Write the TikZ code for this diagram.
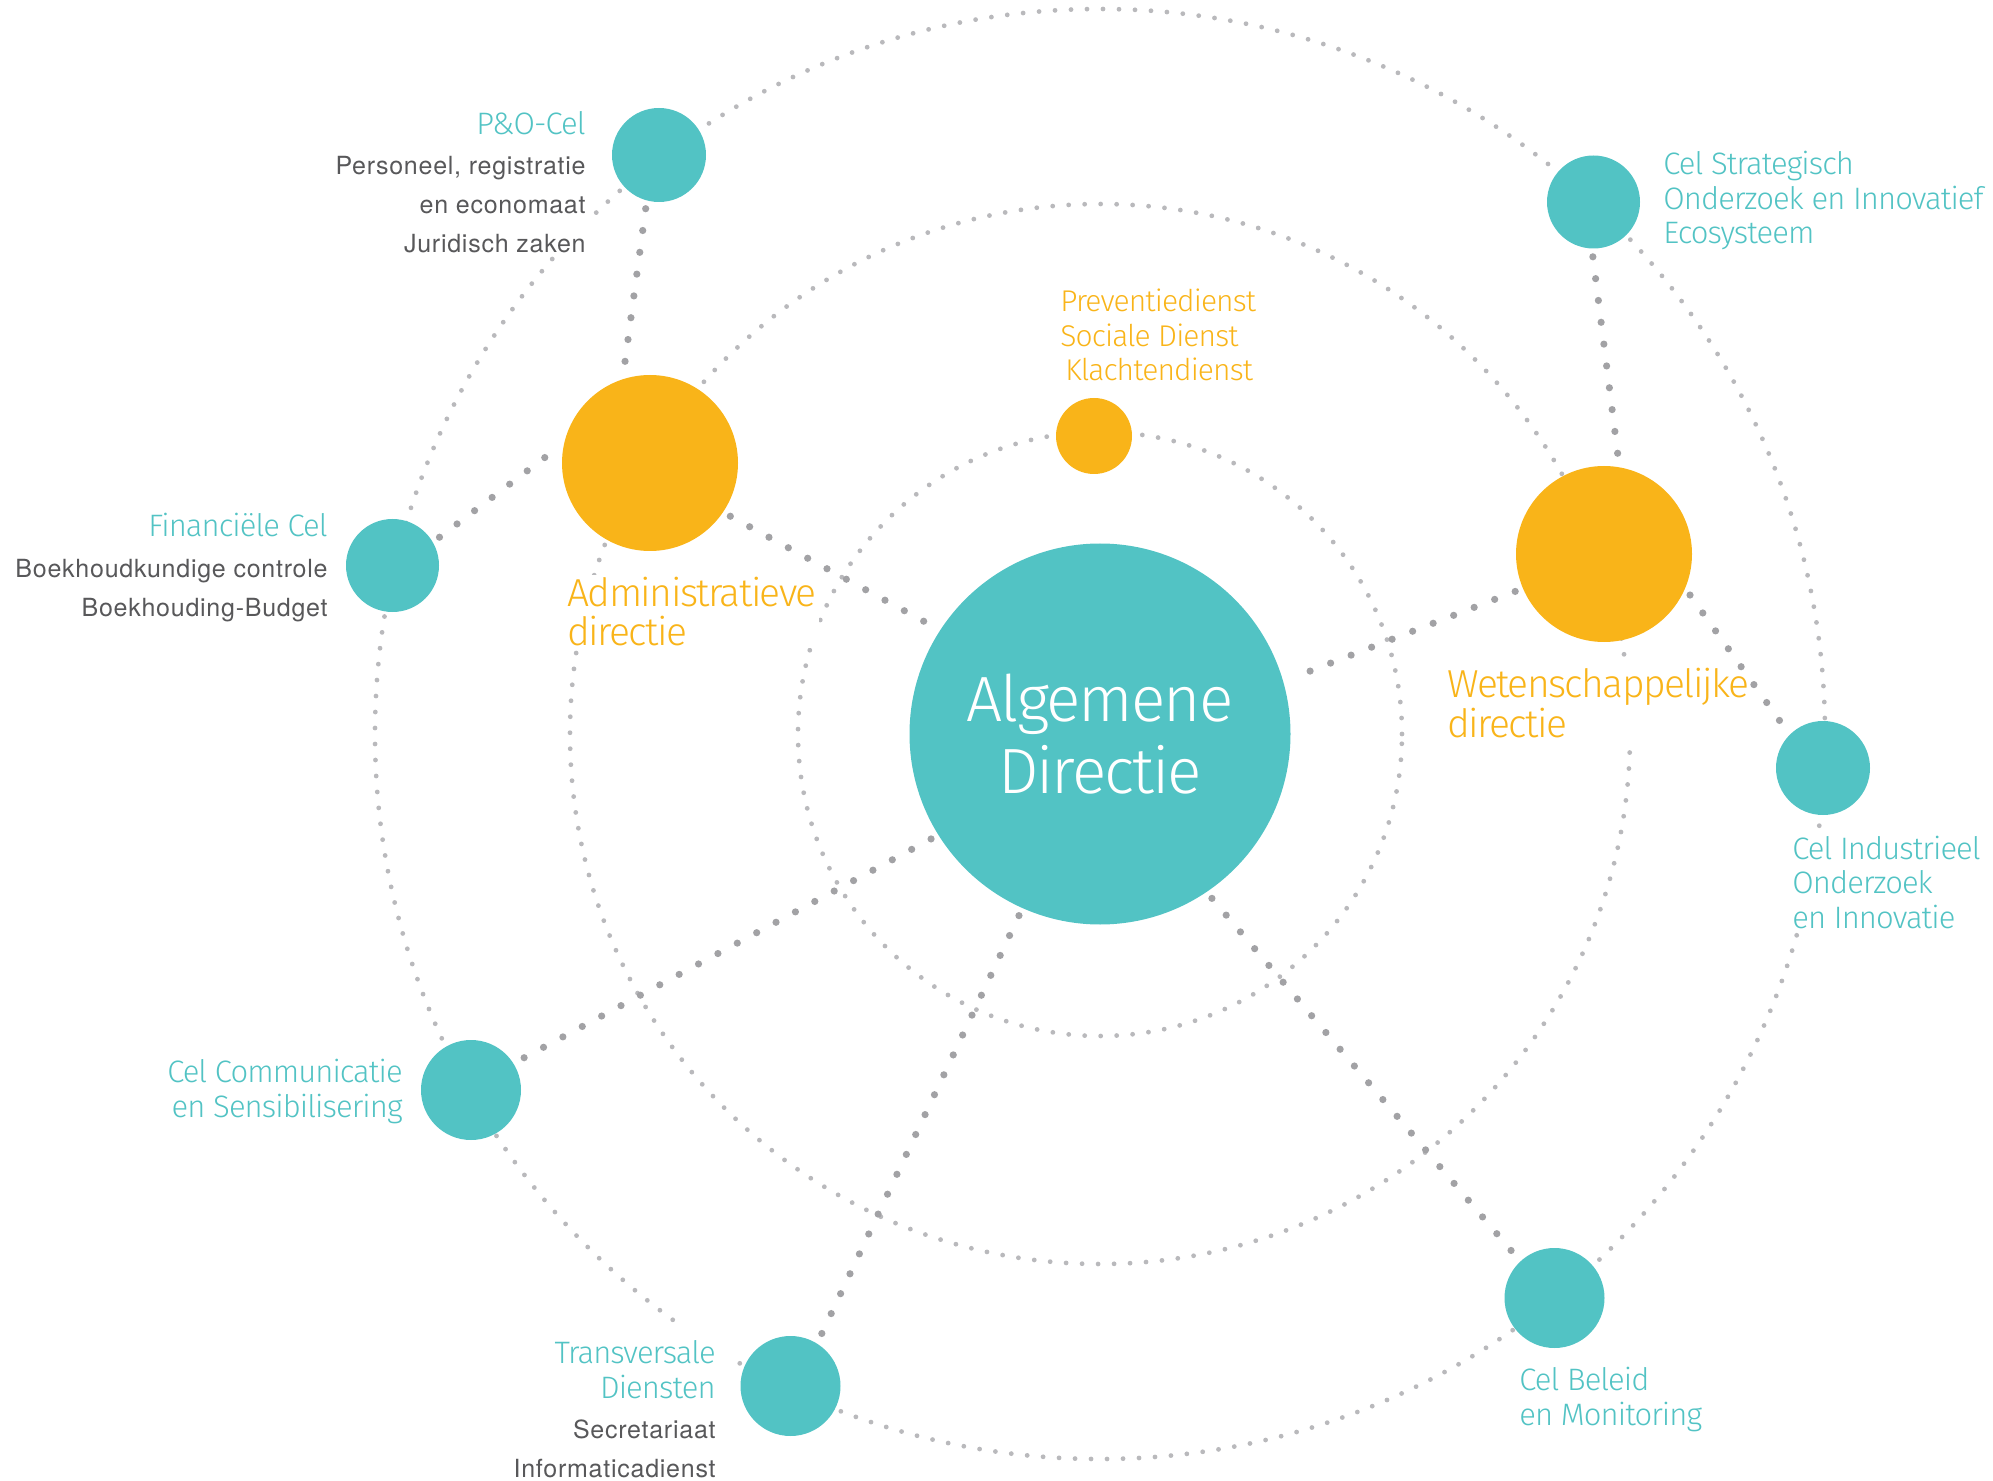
\documentclass[tikz,border=0pt]{standalone}
\usepackage{fontspec}
\setmainfont{Fira Sans Light}
\newfontfamily\lightfont{Fira Sans Light}[LetterSpace=-3]
\newfontfamily\tightfont{Fira Sans Light}[LetterSpace=-4]
\newfontfamily\greyfont{TeX Gyre Heros}[LetterSpace=3]
\usetikzlibrary{positioning}

\definecolor{celteal}{HTML}{52C3C4}
\definecolor{dirorange}{HTML}{F9B419}
\definecolor{orbitgrey}{HTML}{B9B9BC}
\definecolor{linkgrey}{HTML}{A2A2A5}
\definecolor{textgrey}{HTML}{58585A}

\begin{document}
\begin{tikzpicture}[x=0.5pt, y=-0.5pt,
    orbit/.style={draw=orbitgrey, line width=2.4pt, line cap=round, dash pattern=on 0pt off 8pt},
    link/.style={draw=linkgrey, line width=3.6pt, line cap=round, dash pattern=on 0pt off 11pt, shorten <=4pt, shorten >=4pt},
    cel/.style={circle, fill=celteal, inner sep=0pt, minimum size=#1},
    dir/.style={circle, fill=dirorange, inner sep=0pt, minimum size=#1},
    celtext/.style={text=celteal, font=\lightfont\fontsize{15.5}{17.25}\selectfont, fill=white, inner sep=1pt},
    prevtext/.style={text=dirorange, font=\lightfont\fontsize{15}{17.25}\selectfont, inner sep=1pt},
    dirtext/.style={text=dirorange, font=\tightfont\fontsize{19.5}{19.75}\selectfont, fill=white, inner sep=1pt},
    subtext/.style={text=textgrey, font=\greyfont\fontsize{12.5}{19.5}\selectfont, fill=white, inner sep=1pt}]
  \useasboundingbox (0,0) rectangle (1993,1481);
  \coordinate (mid) at (1100,734);

  % orbits
  \draw[orbit] (mid) circle [radius=151pt];
  \draw[orbit] (mid) circle [radius=265pt];
  \draw[orbit] (mid) circle [radius=362.5pt];

  % labels (anchored at the baseline of their last line)
  \node[celtext, anchor=base east] (potitle) at (588,135) {P\&O-Cel};
  \node[subtext, anchor=base east, align=right] (potext) at (588,253) {Personeel, registratie\\en economaat\\Juridisch zaken};
  \node[celtext, anchor=base east] (fintitle) at (330,537) {Financiële Cel};
  \node[subtext, anchor=base east, align=right] (fintext) at (330,617) {Boekhoudkundige controle\\Boekhouding-Budget};
  \node[prevtext, anchor=base west, align=left] (prevtext) at (1058,381) {Preventiedienst\\Sociale Dienst\\\hspace{2.5pt}Klachtendienst};
  \node[celtext, anchor=base west, align=left] (strattext) at (1661,244) {Cel Strategisch\\Onderzoek en Innovatief\\Ecosysteem};
  \node[celtext, anchor=base west, align=left] (indtext) at (1790,928) {Cel Industrieel\\Onderzoek\\en Innovatie};
  \node[celtext, anchor=base west, align=left] (beltext) at (1517,1425) {Cel Beleid\\en Monitoring};
  \node[celtext, anchor=base east, align=right] (comtext) at (405,1117) {Cel Communicatie\\en Sensibilisering};
  \node[celtext, anchor=base east, align=right, inner sep=8pt] (transtitle) at (732,1398) {Transversale\\Diensten};
  \node[subtext, anchor=base east, align=right] (transtext) at (718,1477) {Secretariaat\\Informaticadienst};
  \node[dirtext, anchor=base west, align=left] (admtext) at (565,646) {Administratieve\\directie};
  \node[dirtext, anchor=base west, align=left] (wettext) at (1445,737) {Wetenschappelijke\\directie};

  % circles
  \node[cel=190.5pt, text=white, align=center, font=\lightfont\fontsize{32}{36}\selectfont] (ad) at (mid) {Algemene\\Directie};
  \node[dir=88pt] (adm) at (650,463) {};
  \node[dir=88pt] (wet) at (1604,554) {};
  \node[dir=38pt] (prev) at (1094,436) {};
  \node[cel=47pt] (po) at (659,155) {};
  \node[cel=46.5pt] (strat) at (1593.5,202) {};
  \node[cel=46.5pt] (fin) at (392.5,565.5) {};
  \node[cel=47pt] (ind) at (1823,768) {};
  \node[cel=50pt] (com) at (471,1090) {};
  \node[cel=50pt] (trans) at (790.5,1386) {};
  \node[cel=50pt] (bel) at (1554.5,1298) {};

  % links
  \draw[link] (adm.-34) -- (ad.147);
  \draw[link] (fin.30) -- (adm.167);
  \draw[link] (po.255) -- (adm.108);
  \draw[link] (strat.268) -- (wet.80);
  \draw[link] (wet.-23) -- (ind.135);
  \draw[link] (wet.203) -- (ad.16);
  \draw[link] (ad.212) -- (com.32);
  \draw[link] (ad.246) -- (trans.58);
  \draw[link] (ad.-56) -- (bel.133);
\end{tikzpicture}
\end{document}
